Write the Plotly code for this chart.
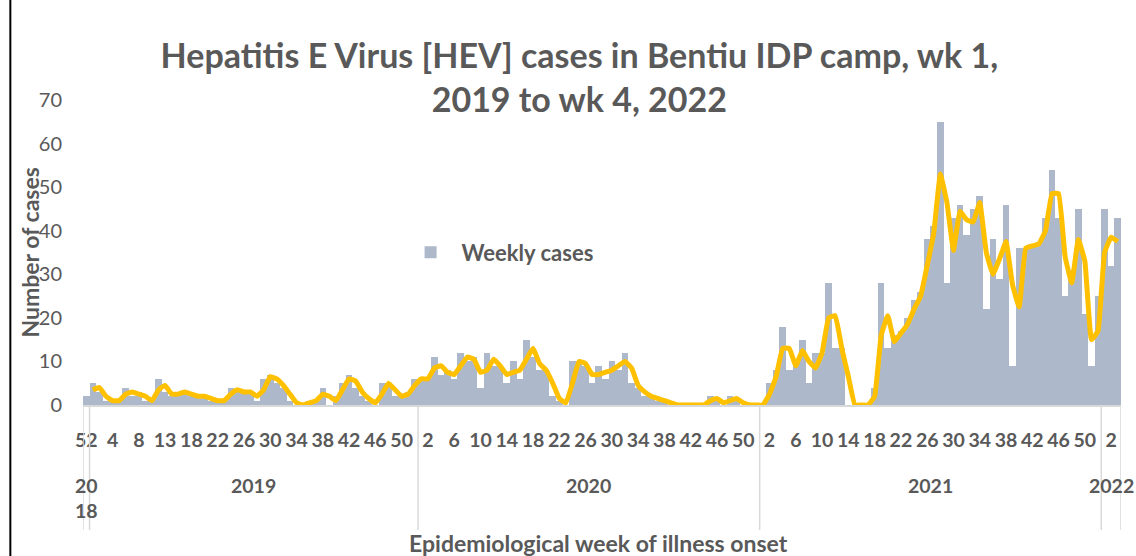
import pandas as pd
import plotly.graph_objects as go

GREY_TEXT = "#595959"
BAR_COLOUR = "#ADB9CA"
LINE_COLOUR = "#FFC000"
FONT = "Lato"

# epi weeks present in the data (two weeks missing in 2019)
weeks_2018 = [52]
weeks_2019 = list(range(1, 10)) + list(range(11, 16)) + list(range(17, 53))
weeks_2020 = list(range(1, 53))
weeks_2021 = list(range(1, 53))
weeks_2022 = [1, 2, 3]

# weekly HEV cases
cases_2018 = [2]
cases_2019 = [5, 3, 1, 1, 1, 4, 2, 3, 1, 1, 6, 3, 2, 3, 3, 2, 2, 2, 1, 1,
              1, 4, 3, 3, 3, 1, 6, 7, 5, 4, 1, 0, 0, 1, 1, 4, 0, 2, 5, 7,
              4, 2, 1, 0, 5, 5, 2, 2, 3, 6]
cases_2020 = [6, 6, 11, 7, 8, 6, 12, 10, 11, 4, 12, 9, 9, 5, 10, 6, 15, 11, 8, 8,
              2, 1, 0, 10, 10, 9, 5, 9, 6, 10, 8, 12, 5, 4, 2, 2, 1, 1, 0, 0,
              0, 0, 0, 0, 2, 1, 0, 2, 1, 0, 0, 0]
cases_2021 = [0, 5, 8, 18, 8, 10, 15, 5, 12, 12, 28, 13, 13, 0, 0, 0, 0, 4, 28, 13,
              16, 17, 20, 24, 26, 38, 41, 65, 28, 43, 46, 39, 45, 48, 22, 38, 29, 46, 9, 36,
              36, 37, 37, 43, 54, 43, 25, 31, 45, 21, 9, 25]
cases_2022 = [45, 32, 43]

years = ["2018", "2019", "2020", "2021", "2022"]
year_labels = ["20<br>18", "2019", "2020", "2021", "2022"]
week_lists = [weeks_2018, weeks_2019, weeks_2020, weeks_2021, weeks_2022]
case_lists = [cases_2018, cases_2019, cases_2020, cases_2021, cases_2022]

rows = []
for yr, wks, cs in zip(years, week_lists, case_lists):
    for w, c in zip(wks, cs):
        rows.append({"year": yr, "week": w, "cases": c})
df = pd.DataFrame(rows)
df["pos"] = range(len(df))
# 2 week moving average (trendline in the original chart)
df["ma"] = df["cases"].rolling(window=2).mean()

fig = go.Figure()
fig.add_trace(go.Bar(x=df["pos"], y=df["cases"], name="Weekly cases",
                     marker=dict(color=BAR_COLOUR, line=dict(width=0)), width=1))
fig.add_trace(go.Scatter(x=df["pos"], y=df["ma"], mode="lines", showlegend=False,
                         line=dict(color=LINE_COLOUR, width=5, shape="spline", smoothing=0.3)))

ticks = df.iloc[::4]
fig.update_layout(
    width=1136, height=556,
    margin=dict(l=83, r=15, t=100, b=151),
    plot_bgcolor="white", paper_bgcolor="white",
    font=dict(family=FONT, color=GREY_TEXT),
    bargap=0,
    title=dict(text="Hepatitis E Virus [HEV] cases in Bentiu IDP camp, wk 1,<br>2019 to wk 4, 2022",
               x=0.51, xanchor="center", y=0.878, yanchor="top",
               font=dict(size=34, family=FONT, color=GREY_TEXT, weight="bold")),
    legend=dict(x=0.305, y=0.5, xanchor="left", yanchor="middle", bgcolor="rgba(0,0,0,0)",
                itemwidth=52, font=dict(size=22, weight="bold", color=GREY_TEXT)),
    xaxis=dict(range=[-0.5, len(df) - 0.5], tickvals=ticks["pos"], ticktext=ticks["week"].astype(str),
               showgrid=False, zeroline=False, showline=True, linecolor="#D9D9D9", linewidth=1.5,
               ticks="", ticklabelstandoff=17, tickangle=0,
               tickfont=dict(size=19.5, weight="bold", color=GREY_TEXT)),
    yaxis=dict(range=[0, 70], dtick=10, showgrid=False, zeroline=False, showline=False,
               ticks="", ticklabelstandoff=20, tickfont=dict(size=20, color=GREY_TEXT)),
)

# year group dividers and labels
starts = df.groupby("year")["pos"].min()
ends = df.groupby("year")["pos"].max()
bounds = [-0.5] + [ends[y] + 0.5 for y in years]
for b in bounds:
    fig.add_shape(type="line", xref="x", yref="paper", x0=b, x1=b, y0=0, y1=-0.41,
                  line=dict(color="#D9D9D9", width=1.5))
for y, lab in zip(years, year_labels):
    fig.add_annotation(x=(starts[y] + ends[y]) / 2, y=-0.22, xref="x", yref="paper",
                       text=lab, showarrow=False, yanchor="top",
                       font=dict(size=19.5, weight="bold", color=GREY_TEXT))

fig.add_annotation(text="Number of cases", x=-0.052, y=0.5, xref="paper", yref="paper",
                   textangle=-90, showarrow=False, xanchor="center", yanchor="middle",
                   font=dict(size=23, weight="bold", color=GREY_TEXT))
fig.add_annotation(text="Epidemiological week of illness onset", x=0.497, y=-0.452,
                   xref="paper", yref="paper", showarrow=False, yanchor="middle",
                   font=dict(size=23, weight="bold", color=GREY_TEXT))

# chart border on the left
fig.add_shape(type="line", xref="paper", yref="paper", x0=-0.07, x1=-0.07, y0=-0.5, y1=1.33,
              line=dict(color="black", width=2))

fig.write_html("out.html", config={"displayModeBar": False},
               post_script="document.body.style.margin='0';")
